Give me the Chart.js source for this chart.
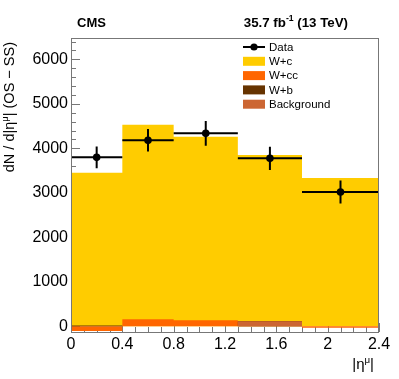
<!DOCTYPE html>
<html>
<head>
<meta charset="utf-8">
<script src="https://cdn.jsdelivr.net/npm/chart.js@4.4.0/dist/chart.umd.min.js"></script>
<style>
  body { margin: 0; background: #fff; }
</style>
</head>
<body>
<canvas id="etaChart" width="399" height="379"></canvas>
<script>
// bin edges in |eta^mu|
const binEdges = [0, 0.4, 0.8, 1.3, 1.8, 2.4];

// stack components (OS - SS) per bin
const wcVals  = [3555, 4373, 4126, 3737, 3363];
const wccVals = [-126, 157, 135, 0, -30];
const wbVals  = [20, 0, 0, 0, 0];
const bkgVals = [0, 0, 0, 112, 0];

// data points with stat errors
const dataX   = [0.2, 0.6, 1.05, 1.55, 2.1];
const dataY   = [3798, 4180, 4337, 3775, 3018];
const dataErr = [243, 252, 278, 262, 259];

const xTicks = [0, 0.4, 0.8, 1.2, 1.6, 2, 2.4];
const yTicks = [0, 1000, 2000, 3000, 4000, 5000, 6000];

const FONT = "'Liberation Sans', Arial, Helvetica, sans-serif";

// ROOT style stack: each cumulative sum is filled from zero, top one drawn first
const c1 = bkgVals.slice();
const c2 = c1.map((v, i) => v + wbVals[i]);
const c3 = c2.map((v, i) => v + wccVals[i]);
const c4 = c3.map((v, i) => v + wcVals[i]);

function toSteps(vals) {
    return binEdges.map((x, i) => ({ x: x, y: vals[Math.min(i, vals.length - 1)] }));
}

function histDs(label, vals, color, order) {
    return {
        type: 'line',
        label: label,
        data: toSteps(vals),
        stepped: true,
        borderWidth: 0,
        borderColor: color,
        backgroundColor: color,
        pointRadius: 0,
        fill: 'origin',
        order: order
    };
}

// draw text pieces with superscripts, left to right from x
function richWidth(ctx, parts, size, bold) {
    let w = 0;
    parts.forEach(p => {
        ctx.font = (bold ? 'bold ' : '') + (p.sup ? size * 0.65 : size) + 'px ' + FONT;
        w += ctx.measureText(p.t).width;
    });
    return w;
}
function drawRich(ctx, parts, x, y, size, bold) {
    parts.forEach(p => {
        ctx.font = (bold ? 'bold ' : '') + (p.sup ? size * 0.65 : size) + 'px ' + FONT;
        ctx.fillText(p.t, x, p.sup ? y - size * 0.42 : y);
        x += ctx.measureText(p.t).width;
    });
}

const rootDeco = {
    id: 'rootDeco',
    beforeDatasetsDraw(chart) {
        const { ctx, chartArea: a, scales: { x, y } } = chart;
        ctx.save();
        ctx.strokeStyle = '#777';
        ctx.lineWidth = 1;
        ctx.beginPath();
        // y ticks, every 200 with majors at 1000
        for (let v = 0; v <= 6400; v += 200) {
            const py = Math.round(y.getPixelForValue(v)) + 0.5;
            const len = v % 1000 === 0 ? 9 : 5;
            ctx.moveTo(a.left, py); ctx.lineTo(a.left + len, py);
        }
        // x ticks, every 0.1 with majors at 0.4
        for (let k = 0; k <= 24; k++) {
            const px = Math.round(x.getPixelForValue(k / 10)) + 0.5;
            const len = k % 4 === 0 ? 9 : 5;
            ctx.moveTo(px, a.bottom); ctx.lineTo(px, a.bottom - len);
        }
        ctx.stroke();
        ctx.restore();
    },
    afterDatasetsDraw(chart) {
        const { ctx, chartArea: a, scales: { x, y } } = chart;
        ctx.save();
        // error bars
        ctx.strokeStyle = '#000';
        ctx.lineWidth = 2;
        ctx.beginPath();
        dataX.forEach((dx, i) => {
            const py = y.getPixelForValue(dataY[i]);
            const px = x.getPixelForValue(dx);
            ctx.moveTo(x.getPixelForValue(binEdges[i]), py);
            ctx.lineTo(x.getPixelForValue(binEdges[i + 1]), py);
            ctx.moveTo(px, y.getPixelForValue(dataY[i] - dataErr[i]));
            ctx.lineTo(px, y.getPixelForValue(dataY[i] + dataErr[i]));
        });
        ctx.stroke();
        ctx.fillStyle = '#000';
        dataX.forEach((dx, i) => {
            ctx.beginPath();
            ctx.arc(x.getPixelForValue(dx), y.getPixelForValue(dataY[i]), 3.8, 0, Math.PI * 2);
            ctx.fill();
        });

        // frame
        ctx.strokeStyle = '#777';
        ctx.lineWidth = 1;
        ctx.strokeRect(Math.round(a.left) + 0.5, Math.round(a.top) + 0.5,
            Math.round(a.right - a.left) - 1, Math.round(a.bottom - a.top));

        // legend
        const legOrder = [chart.data.datasets.find(d => d.label === 'Data')]
            .concat(chart.data.datasets.filter(d => d.label !== 'Data'));
        ctx.textBaseline = 'middle';
        legOrder.forEach((d, i) => {
            const cy = 47 + i * 14.3;
            if (d.label === 'Data') {
                ctx.strokeStyle = '#000';
                ctx.lineWidth = 2;
                ctx.beginPath(); ctx.moveTo(243, cy); ctx.lineTo(265, cy); ctx.stroke();
                ctx.beginPath(); ctx.arc(254, cy, 3.6, 0, Math.PI * 2); ctx.fill();
            } else {
                ctx.fillStyle = d.backgroundColor;
                ctx.fillRect(243, cy - 4.5, 22, 9);
            }
            ctx.fillStyle = '#000';
            ctx.font = '11.5px ' + FONT;
            ctx.fillText(d.label, 269, cy + 0.5);
        });

        // header
        ctx.textBaseline = 'alphabetic';
        ctx.font = 'bold 13px ' + FONT;
        ctx.fillText('CMS', 77, 27);
        const lumi = [{ t: '35.7 fb' }, { t: '-1', sup: true }, { t: ' (13 TeV)' }];
        drawRich(ctx, lumi, 348 - richWidth(ctx, lumi, 13.3, true), 27, 13.3, true);

        // x title
        const xt = [{ t: '|η' }, { t: 'μ', sup: true }, { t: '|' }];
        drawRich(ctx, xt, 374 - richWidth(ctx, xt, 15, false), 369, 15, false);

        // y title, top aligned like ROOT
        const yt = [{ t: 'dN / d|η' }, { t: 'μ', sup: true }, { t: '| (OS − SS)' }];
        ctx.translate(14, 42);
        ctx.rotate(-Math.PI / 2);
        drawRich(ctx, yt, -richWidth(ctx, yt, 14.5, false), 0, 14.5, false);
        ctx.restore();
    }
};

const myChart = new Chart(document.getElementById('etaChart'), {
    type: 'line',
    plugins: [rootDeco],
    data: {
        datasets: [
            {
                type: 'scatter',
                label: 'Data',
                data: dataX.map((x, i) => ({ x: x, y: dataY[i] })),
                pointRadius: 0,
                backgroundColor: '#000',
                borderColor: '#000',
                order: 0
            },
            histDs('W+c', c4, '#ffcc00', 4),
            histDs('W+cc', c3, '#ff6600', 3),
            histDs('W+b', c2, '#663300', 2),
            histDs('Background', c1, '#cc6633', 1)
        ]
    },
    options: {
        responsive: false,
        animation: false,
        layout: { padding: { top: 38, right: 20, left: 0, bottom: 0 } },
        plugins: {
            legend: { display: false },
            tooltip: { enabled: false }
        },
        scales: {
            x: {
                type: 'linear',
                min: 0,
                max: 2.4,
                grid: { display: false, drawTicks: false },
                border: { display: false },
                afterBuildTicks: s => { s.ticks = xTicks.map(v => ({ value: v })); },
                afterFit: s => { s.height = 47; },
                ticks: {
                    autoSkip: false,
                    maxRotation: 0,
                    padding: 3,
                    color: '#000',
                    font: { family: FONT, size: 16 },
                    callback: v => String(v)
                }
            },
            y: {
                min: -128,
                max: 6480,
                grid: { display: false, drawTicks: false },
                border: { display: false },
                afterBuildTicks: s => { s.ticks = yTicks.map(v => ({ value: v })); },
                afterFit: s => { s.width = 71; },
                ticks: {
                    padding: 3,
                    color: '#000',
                    font: { family: FONT, size: 16 },
                    callback: v => String(v)
                }
            }
        }
    }
});
</script>
</body>
</html>
